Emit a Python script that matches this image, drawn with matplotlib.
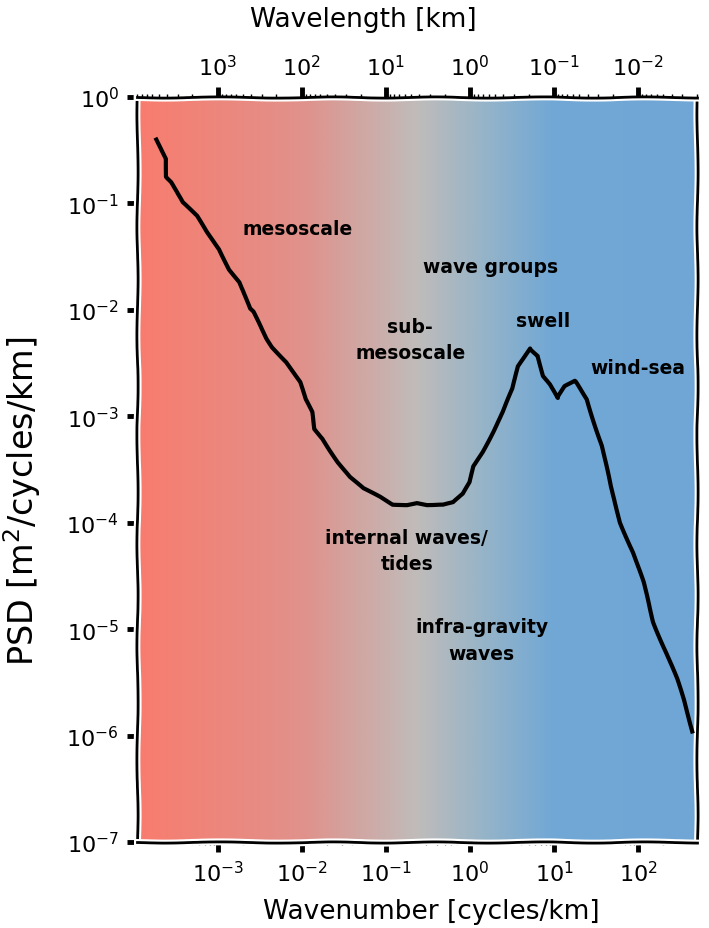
import numpy as np
import matplotlib
matplotlib.use("Agg")
import matplotlib.pyplot as plt
from matplotlib import patheffects
from matplotlib.colors import LinearSegmentedColormap
from matplotlib.ticker import LogLocator, NullFormatter, FixedLocator

# ---- data (log10 values) ----
log_wavenumber = [-3.73, -3.61, -3.61, -3.55, -3.42, -3.25, -3.13, -2.98, -2.86, -2.74,
                  -2.62, -2.58, -2.42, -2.35, -2.18, -2.02, -1.96, -1.88, -1.85, -1.75,
                  -1.67, -1.57, -1.43, -1.27, -1.07, -0.92, -0.75, -0.63, -0.51, -0.32,
                  -0.20, -0.08, 0.00, 0.04, 0.15, 0.27, 0.39, 0.51, 0.57, 0.71,
                  0.81, 0.87, 0.95, 1.04, 1.13, 1.25, 1.39, 1.57, 1.67, 1.79,
                  1.94, 2.06, 2.18, 2.35, 2.46, 2.54, 2.65]
log_psd = [-0.40, -0.58, -0.75, -0.80, -0.99, -1.12, -1.27, -1.43, -1.62, -1.74,
           -1.99, -2.02, -2.27, -2.35, -2.49, -2.68, -2.84, -2.96, -3.12, -3.21,
           -3.31, -3.43, -3.57, -3.68, -3.76, -3.83, -3.83, -3.81, -3.83, -3.83,
           -3.81, -3.73, -3.62, -3.47, -3.33, -3.15, -2.96, -2.74, -2.53, -2.36,
           -2.43, -2.62, -2.70, -2.83, -2.72, -2.67, -2.84, -3.28, -3.66, -4.00,
           -4.28, -4.56, -4.93, -5.25, -5.47, -5.66, -5.96]
wavenumber = 10.0 ** np.array(log_wavenumber)
psd = 10.0 ** np.array(log_psd)

labels = ["mesoscale", "wave groups", "swell", "wind-sea", "sub-\nmesoscale",
          "internal waves/\ntides", "infra-gravity\nwaves"]
label_k = [10**-2.05, 10**0.24, 10**0.87, 10**2.0, 10**-0.71, 10**-0.75, 10**0.14]
label_p = [10**-1.24, 10**-1.59, 10**-2.10, 10**-2.54, 10**-2.28, 10**-4.26, 10**-5.10]

wavelength_ticks = [1e3, 1e2, 1e1, 1e0, 1e-1, 1e-2]

xlim = (10**-3.96, 10**2.70)
ylim = (1e-7, 1e0)

# ---- style ----
plt.xkcd(scale=0.6, length=120, randomness=2)
plt.rcParams['path.effects'] = []
plt.rcParams['font.family'] = ['DejaVu Sans']

fig = plt.figure(figsize=(7.09, 9.29), dpi=100)
ax = fig.add_axes([137/709, 86/929, 560/709, 745/929])

cmap = LinearSegmentedColormap.from_list("bg", [
    (0.00, (248/255, 124/255, 110/255)),
    (0.30, (224/255, 146/255, 140/255)),
    (0.50, (192/255, 188/255, 186/255)),
    (0.62, (150/255, 180/255, 200/255)),
    (0.74, (114/255, 168/255, 213/255)),
    (1.00, (112/255, 166/255, 214/255)),
])
grad = np.linspace(0, 1, 512).reshape(1, -1)
ax.imshow(grad, cmap=cmap, aspect='auto', extent=[0, 1, 0, 1],
          transform=ax.transAxes, zorder=0, interpolation='bilinear')

ax.plot(wavenumber, psd, color='black', lw=3, zorder=3)

for t, x, y in zip(labels, label_k, label_p):
    ax.text(x, y, t, ha='center', va='center', fontsize=13.5,
            fontweight='bold', zorder=4, linespacing=1.5)

ax.set_xscale('log')
ax.set_yscale('log')
ax.set_xlim(*xlim)
ax.set_ylim(*ylim)

ax.xaxis.set_major_locator(LogLocator(base=10, numticks=20))
ax.xaxis.set_minor_locator(LogLocator(base=10, subs=np.arange(2, 10), numticks=20))
ax.xaxis.set_minor_formatter(NullFormatter())
ax.yaxis.set_major_locator(LogLocator(base=10, numticks=20))
ax.yaxis.set_minor_locator(FixedLocator([]))

ax.tick_params(axis='both', which='major', length=7, width=3.5, labelsize=16, pad=6)
ax.tick_params(axis='x', which='minor', length=2, width=1)

for sp in ax.spines.values():
    sp.set_linewidth(2)
    sp.set_path_effects([patheffects.withStroke(linewidth=5, foreground='w')])

ax.set_xlabel("Wavenumber [cycles/km]", fontsize=19, labelpad=6)
ax.xaxis.set_label_coords(0.525, -0.075)
ax.set_ylabel("PSD [m$^2$/cycles/km]", fontsize=24, labelpad=18)
ax.yaxis.set_label_coords(-0.168, 0.458)

# top axis: wavelength = 1 / wavenumber
ax2 = ax.twiny()
ax2.set_xscale('log')
ax2.set_xlim(*xlim)
wl = np.array(wavelength_ticks)
ax2.set_xticks(1.0 / wl)
ax2.set_xticklabels([f"$10^{{{int(round(np.log10(w)))}}}$" for w in wl])
minor_pos = []
for e in range(-3, 5):
    for m in range(2, 10):
        p = 1.0 / (m * 10.0**e)
        if xlim[0] < p < xlim[1]:
            minor_pos.append(p)
ax2.set_xticks(minor_pos, minor=True)
ax2.xaxis.set_minor_formatter(NullFormatter())
ax2.set_xlim(*xlim)
for sp in ax2.spines.values():
    sp.set_visible(False)
ax2.tick_params(axis='x', which='major', length=7, width=3.5, labelsize=16, pad=6)
ax2.tick_params(axis='x', which='minor', length=2, width=1)
ax2.set_xlabel("Wavelength [km]", fontsize=19, labelpad=16)
ax2.xaxis.set_label_coords(0.404, 1.095)

fig.savefig("out.png", dpi=100)
